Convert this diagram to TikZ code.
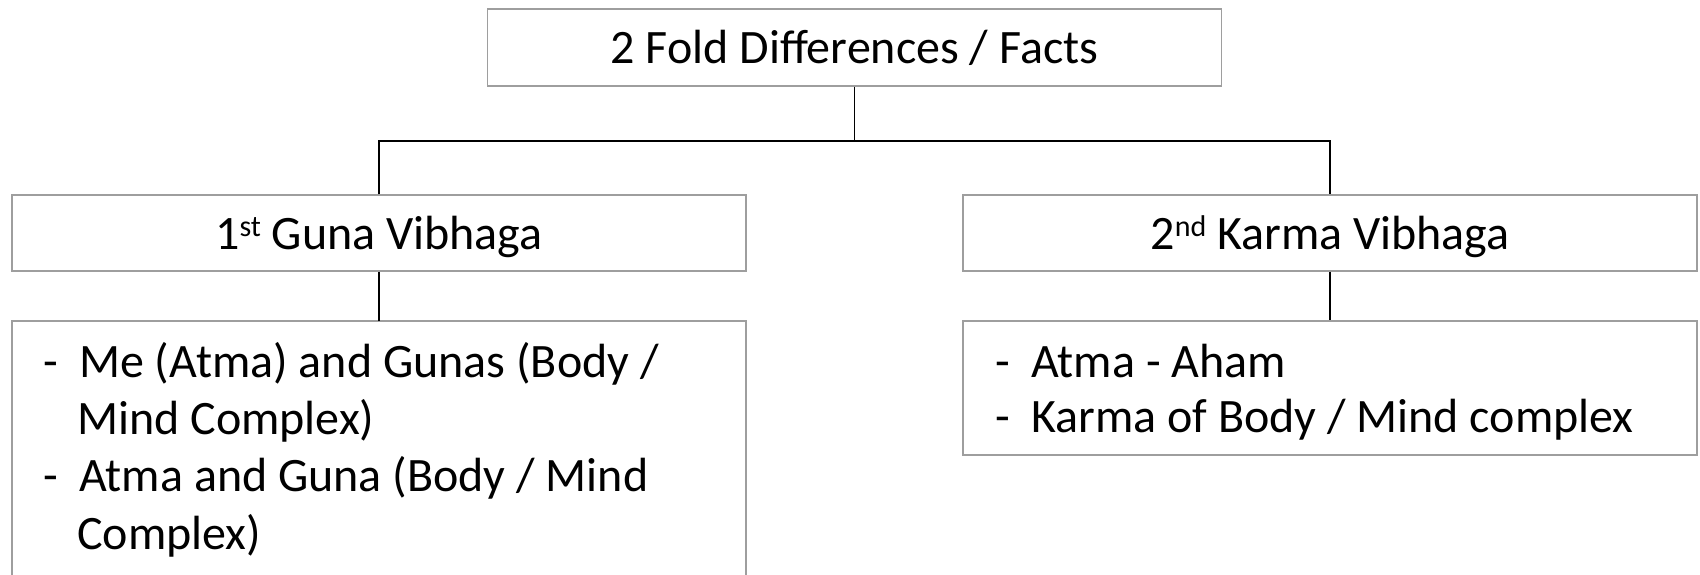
\documentclass[tikz,border=0pt]{standalone}
\usepackage{fontspec}
\setmainfont{Carlito}
\begin{document}
\begin{tikzpicture}[x=1pt,y=-1pt,
  box/.style={draw=black!38, line width=1.3pt, fill=white, minimum width=734pt, inner sep=0pt},
  link/.style={draw=black, line width=1.4pt},
  label/.style={anchor=base, inner sep=0pt, font=\fontsize{48}{56}\selectfont},
  itemtext/.style={anchor=base west, inner sep=0pt, font=\fontsize{48}{56}\selectfont}]
\clip (0,0) rectangle (1700,574);
\fill[white] (0,0) rectangle (1700,574);

% boxes
\node[box, minimum height=77pt] (top) at (854.5,47.5) {};
\node[box, minimum height=76pt] (gb) at (379,233) {};
\node[box, minimum height=76pt] (kb) at (1330,233) {};
\node[box, minimum height=134pt] (kl) at (1330,388) {};
\draw[draw=black!38, line width=1.3pt] (12,600) -- (12,321) coordinate (gl) -- (746,321) -- (746,600);
\coordinate (glt) at (379,321);

% connectors
\coordinate (j) at (top.south |- 0,141);
\draw[link] (top.south) -- (j);
\draw[link] (gb.north) |- (j) -| (kb.north);
\draw[link] (gb.south) -- (glt);
\draw[link] (kb.south) -- (kl.north);

% headings
\node[label] (t0) at (854.5,63) {2 Fold Differences / Facts};
\node[label] (t1) at (379,249) {1\raisebox{13pt}{\fontsize{30}{30}\selectfont st} Guna Vibhaga};
\node[label] (t2) at (1330,249) {2\raisebox{13pt}{\fontsize{30}{30}\selectfont nd} Karma Vibhaga};

% left list
\node[itemtext] (d1) at (43,377) {-};
\node[itemtext] (a1) at (79,377) {Me (Atma) and Gunas (Body /};
\node[itemtext] (a2) at (77,434) {Mind Complex)};
\node[itemtext] (d2) at (43,491) {-};
\node[itemtext] (a3) at (79,491) {Atma and Guna (Body / Mind};
\node[itemtext] (a4) at (77,549) {Complex)};

% right list
\node[itemtext] (d3) at (995,377) {-};
\node[itemtext] (b1) at (1031,377) {Atma - Aham};
\node[itemtext] (d4) at (995,432) {-};
\node[itemtext] (b2) at (1031,432) {Karma of Body / Mind complex};
\end{tikzpicture}
\end{document}
